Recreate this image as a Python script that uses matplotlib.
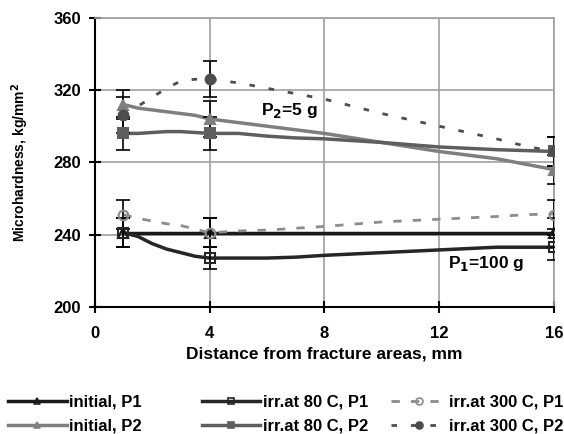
import numpy as np
import matplotlib.pyplot as plt

plt.rcParams['font.family'] = ['Liberation Sans', 'DejaVu Sans']
plt.rcParams['font.weight'] = 'bold'

# measured points (markers + error bars)
xp = [1, 4, 16]
init_p1 = [241, 241, 241]
init_p2 = [312, 304, 276]
irr80_p1 = [241, 227, 233]
irr80_p2 = [296, 296, 286]
irr300_p1 = [251, 241, 251]
irr300_p2 = [306, 326, 286]
err_init_p1 = [8, 8, 8]
err_init_p2 = [8, 10, 8]
err80_p1 = [8, 6, 7]
err80_p2 = [9, 9, 8]
err300_p1 = [8, 8, 8]
err300_p2 = [10, 10, 8]

# smoothed curves
xl = [1, 1.5, 2, 2.5, 3, 3.5, 4, 5, 6, 7, 8, 10, 12, 14, 15, 16]
init_p1_l = [241] * 16
init_p2_l = [312, 310, 309, 308, 307, 306, 304, 302, 300, 298, 296, 291, 286, 282, 279, 276]
irr80_p1_l = [241, 239, 235, 232, 230, 228, 227, 227, 227, 227.5, 228.5, 230, 231.5, 233, 233, 233]
irr80_p2_l = [296, 296, 296.5, 297, 297, 296.5, 296, 296, 294.5, 293.5, 293, 291, 288.5, 287, 286.5, 286]
irr300_p1_l = [251, 249, 247.5, 246, 245, 243, 241, 242, 242.5, 243.5, 244.5, 247, 248.5, 250, 251, 251.5]
irr300_p2_l = [306, 311, 316, 321, 325, 326, 326, 324, 321, 318, 315, 307, 300, 293, 289, 286]

fig = plt.figure(figsize=(5.64, 4.34), dpi=100)
ax = fig.add_axes([0.168, 0.293, 0.814, 0.666])

series = [
    ('initial, P1', init_p1_l, init_p1, err_init_p1, '#1a1a1a', '-', '^', 'none', 2.5),
    ('initial, P2', init_p2_l, init_p2, err_init_p2, '#7f7f7f', '-', '^', '#7f7f7f', 2.5),
    ('irr.at 80 C, P1', irr80_p1_l, irr80_p1, err80_p1, '#262626', '-', 's', 'none', 2.5),
    ('irr.at 80 C, P2', irr80_p2_l, irr80_p2, err80_p2, '#5e5e5e', '-', 's', '#5e5e5e', 2.5),
    ('irr.at 300 C, P1', irr300_p1_l, irr300_p1, err300_p1, '#8c8c8c', (0, (3, 4)), 'o', 'none', 2),
    ('irr.at 300 C, P2', irr300_p2_l, irr300_p2, err300_p2, '#4d4d4d', (0, (2, 5)), 'o', '#4d4d4d', 2),
]

handles = []
for name, yl, yp, ye, c, ls, mk, mf, lw in series:
    ax.plot(xl, yl, color=c, ls=ls, lw=lw, zorder=3)
    ax.errorbar(xp, yp, yerr=ye, fmt='none', ecolor='black', elinewidth=1.2,
                capsize=5, capthick=1.2, zorder=4)
    ax.plot(xp, yp, ls='none', marker=mk, ms=7, mec=c, mfc=mf, mew=1.5, zorder=5)
    h, = ax.plot([], [], color=c, ls=ls, lw=lw, marker=mk, ms=5, mec=c, mfc=mf, mew=1.2)
    handles.append(h)

ax.set_xlim(0, 16)
ax.set_ylim(200, 360)
ax.set_xticks([0, 4, 8, 12, 16])
ax.set_yticks([200, 240, 280, 320, 360])
ax.grid(True, color='#a0a0a0', lw=1.2)
ax.set_axisbelow(True)
for s in ['top', 'right']:
    ax.spines[s].set_color('#a0a0a0')
    ax.spines[s].set_linewidth(1.2)
for s in ['left', 'bottom']:
    ax.spines[s].set_linewidth(1.5)
ax.tick_params(direction='inout', length=8, width=1.5, labelsize=12, pad=6)
ax.tick_params(axis='x', pad=10)

ax.set_xlabel('Distance from fracture areas, mm', fontsize=12.5, fontweight='bold', labelpad=4)
ax.set_ylabel('Microhardness, kg/mm$^\\mathbf{2}$', fontsize=10, fontweight='bold', labelpad=16)

ax.text(5.8, 308.5, 'P$_\\mathbf{2}$=5 g', fontsize=12.5, fontweight='bold', va='center')
ax.text(12.3, 223.8, 'P$_\\mathbf{1}$=100 g', fontsize=12.5, fontweight='bold', va='center')

# one small legend per column
col_x = [-0.006, 0.337, 0.672]
for i, x0 in enumerate(col_x):
    leg = fig.legend(handles=handles[2 * i:2 * i + 2],
                     labels=[s[0] for s in series[2 * i:2 * i + 2]],
                     loc='upper left', bbox_to_anchor=(x0, 0.118), frameon=False,
                     fontsize=12, handlelength=3.5 if i < 2 else 3.35,
                     handletextpad=0.15, labelspacing=0.55, borderpad=0.2)

fig.savefig('out.png', dpi=100)
